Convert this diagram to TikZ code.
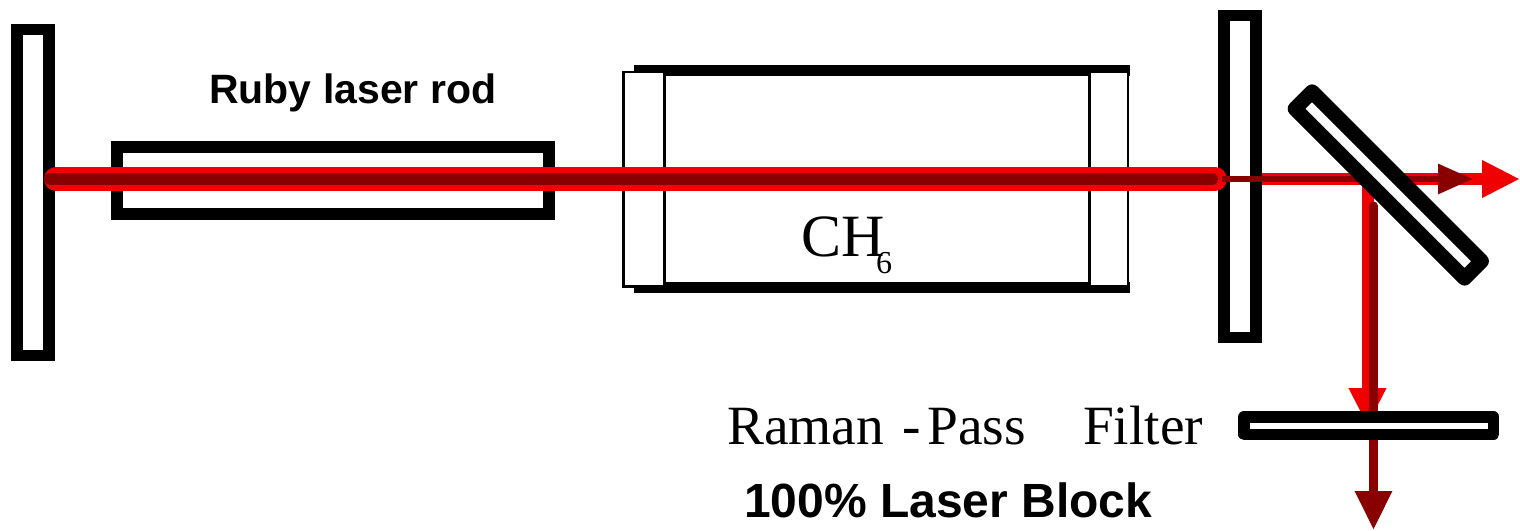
\documentclass[tikz,border=0pt]{standalone}
\usepackage{fontspec}
\setmainfont{Liberation Serif}
\setsansfont{Liberation Sans}
\usetikzlibrary{arrows.meta,positioning,calc}
\definecolor{beamred}{RGB}{240,0,0}
\definecolor{beamdark}{RGB}{136,0,0}
\tikzset{
  optic/.style={draw=black,fill=white,line width=11.5pt,inner sep=0pt,outer sep=0pt},
  plate/.style={optic,line join=round},
  window/.style={draw=black,fill=white,line width=2.8pt,inner sep=0pt,minimum width=40.5pt,minimum height=214.3pt},
  wall/.style={line width=11pt},
  redbeam/.style={draw=beamred,line width=24pt,line cap=round},
  darkbeam/.style={draw=beamdark,line width=12pt,line cap=round},
  redarrow/.style={draw=beamred,line width=12pt,-{Triangle[length=38pt,width=35pt]}},
  darkarrow/.style={draw=beamdark,line width=6pt,-{Triangle[length=35pt,width=29pt]}},
  darkdown/.style={draw=beamdark,line width=9pt,line cap=round,-{Triangle[length=39pt,width=35pt]}},
  serifname/.style={font=\fontsize{55.4}{55.4}\selectfont,inner sep=0pt,anchor=base west},
  sansname/.style={font=\sffamily\bfseries\fontsize{41}{41}\selectfont,inner sep=0pt,anchor=base west},
}
\begin{document}
\begin{tikzpicture}[x=1pt,y=-1pt]
    \useasboundingbox (0,0) rectangle (1520,530);
    % mirrors, rod and gas cell
    \node[optic,minimum width=32pt,minimum height=326pt] (leftmirror) at (33,192.5) {};
    \node[optic,minimum width=32pt,minimum height=322pt] (rightmirror) at (1240,176.5) {};
    \node[optic,minimum width=432pt,minimum height=67pt] (rod) at (333,180.5) {};
    \coordinate (celltopL) at (634,70.5);
    \coordinate (celltopR) at (1129.5,70.5);
    \coordinate (cellbotL) at (634,287.7);
    \coordinate (cellbotR) at (1129.5,287.7);
    \draw[wall] (celltopL) -- (celltopR);
    \draw[wall] (cellbotL) -- (cellbotR);
    \node[window] (windowL) at (644,179.2) {};
    \node[window,minimum width=38.3pt] (windowR) at (1108.8,179.2) {};
    % beams
    \coordinate (beamstart) at (56,179);
    \coordinate (beamend) at (1215,179);
    \coordinate (corestart) at (50,179);
    \coordinate (coreend) at (1212,179);
    \coordinate (exitred) at (1262,179);
    \coordinate (exitthin) at (1222,179);
    \coordinate (redtip) at (1520,179);
    \coordinate (darktip) at (1473,179);
    \coordinate (downstart) at (1367.5,179);
    \coordinate (downtip) at (1367.5,426);
    \coordinate (darkstart) at (1373.5,206);
    \coordinate (darkend) at (1373.5,530);
    \draw[redbeam] (beamstart) -- (beamend);
    \draw[darkbeam] (corestart) -- (coreend);
    \draw[redarrow] (exitred) -- (redtip);
    \draw[darkarrow] (exitthin) -- (darktip);
    \draw[redarrow] (downstart) -- (downtip);
    \draw[darkdown] (darkstart) -- (darkend);
    % beam splitter and filter sit on top
    \node[plate,line width=14.7pt,minimum width=239.7pt,minimum height=24.1pt,rotate=-45] (splitter) at (1388.3,185) {};
    \node[plate,minimum width=249.5pt,minimum height=17.5pt] (filter) at (1368.8,425.5) {};
    % labels
    \node[sansname] (rodlabel) at (209,103) {Ruby laser rod};
    \node[serifname,font=\fontsize{60}{60}\selectfont] (gaslabel) at (801,256) {CH};
    \node[font=\fontsize{32}{32}\selectfont,inner sep=0pt,anchor=base west] (gasindex) at (876,273) {6};
    \node[serifname] (filterlabel) at (727,444.5) {Raman\hspace{18pt}-\hspace{7pt}Pass\hspace{57pt}Filter};
    \node[sansname,font=\sffamily\bfseries\fontsize{48}{48}\selectfont] (blocklabel) at (744,517) {100\% Laser Block};
  \end{tikzpicture}
\end{document}
